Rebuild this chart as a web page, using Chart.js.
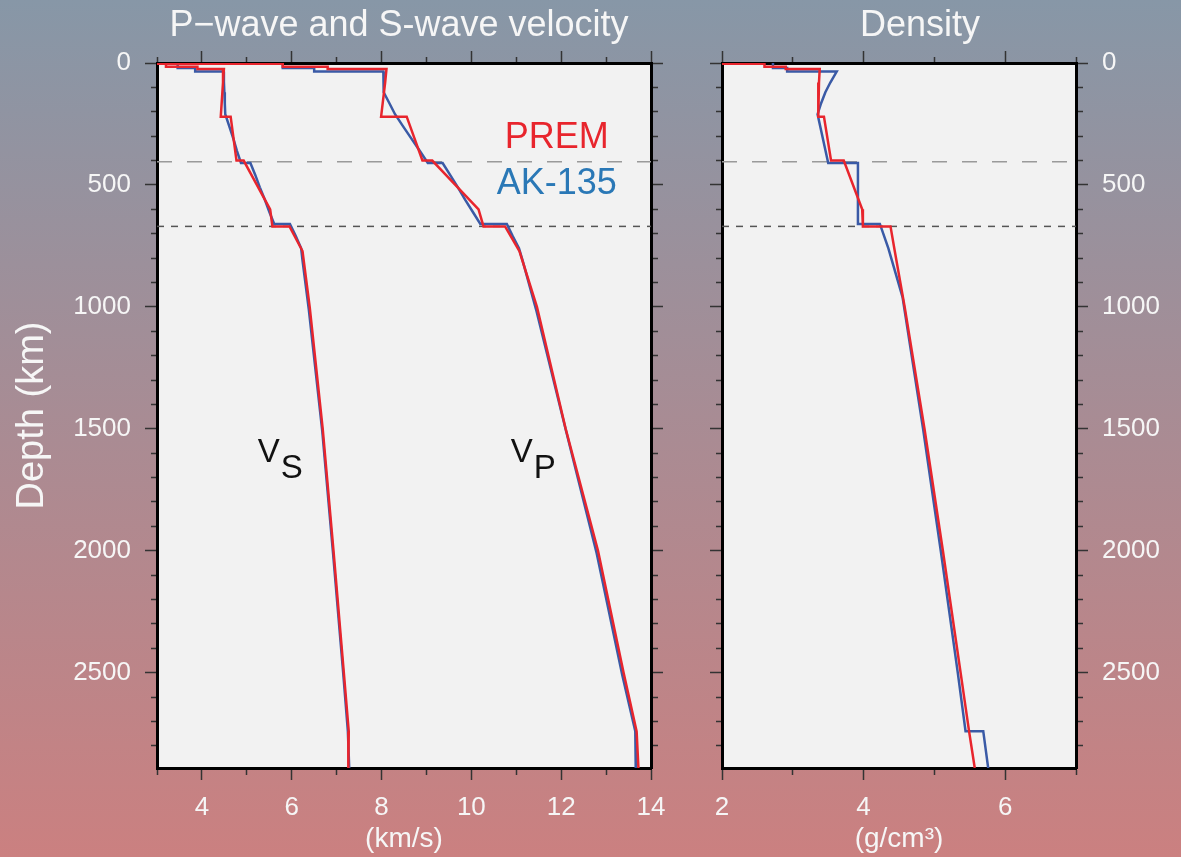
<!DOCTYPE html>
<html>
<head>
<meta charset="utf-8">
<script src="https://cdn.jsdelivr.net/npm/chart.js@4.4.1/dist/chart.umd.min.js"></script>
<style>
  html, body { margin: 0; padding: 0; }
  body {
    width: 1181px; height: 857px; overflow: hidden; position: relative;
    background: linear-gradient(to bottom, #8797a7 0%, #cb8080 100%);
  }
  canvas { position: absolute; top: 0; }
  #velChart { left: 0; }
  #rhoChart { left: 680px; }
</style>
</head>
<body>
<canvas id="velChart" width="680" height="857"></canvas>
<canvas id="rhoChart" width="501" height="857"></canvas>
<script>
// PREM: depth (km), Vp, Vs (km/s), density (g/cm3)
const premDepth = [0, 3, 3, 15, 15, 24.4, 24.4, 80, 220, 220, 400, 400, 600, 670, 670, 771, 1000, 1500, 2000, 2500, 2741, 2891];
const premVp    = [1.45, 1.45, 5.8, 5.8, 6.8, 6.8, 8.11, 8.08, 7.99, 8.56, 8.91, 9.13, 10.16, 10.27, 10.75, 11.07, 11.46, 12.10, 12.82, 13.39, 13.68, 13.72];
const premVs    = [0, 0, 3.2, 3.2, 3.9, 3.9, 4.49, 4.47, 4.42, 4.64, 4.77, 4.93, 5.52, 5.57, 5.95, 6.24, 6.40, 6.69, 6.93, 7.16, 7.27, 7.26];
const premRho   = [1.02, 1.02, 2.6, 2.6, 2.9, 2.9, 3.38, 3.37, 3.36, 3.44, 3.54, 3.72, 3.98, 3.99, 4.38, 4.44, 4.58, 4.86, 5.12, 5.37, 5.49, 5.57];

// AK-135 velocities
const akDepth = [0, 20, 20, 35, 35, 77.5, 120, 165, 210, 260, 310, 360, 410, 410, 460, 510, 560, 610, 660, 660, 710, 760, 809.5, 1010, 1510, 2010, 2510, 2740, 2891.5];
const akVp    = [5.8, 5.8, 6.5, 6.5, 8.04, 8.045, 8.05, 8.175, 8.3, 8.48, 8.665, 8.85, 9.03, 9.36, 9.53, 9.70, 9.86, 10.03, 10.2, 10.79, 10.92, 11.06, 11.14, 11.44, 12.11, 12.79, 13.36, 13.65, 13.66];
const akVs    = [3.46, 3.46, 3.85, 3.85, 4.48, 4.49, 4.5, 4.51, 4.52, 4.61, 4.70, 4.78, 4.87, 5.08, 5.19, 5.29, 5.40, 5.50, 5.61, 5.96, 6.09, 6.21, 6.24, 6.38, 6.68, 6.92, 7.15, 7.25, 7.28];

// AK-135 density
const akRhoDepth = [0, 20, 20, 35, 35, 80, 120, 165, 210, 410, 410, 660, 660, 760, 960, 1500, 2000, 2500, 2740, 2740, 2891.5];
const akRho      = [2.72, 2.72, 2.92, 2.92, 3.62, 3.53, 3.46, 3.40, 3.35, 3.50, 3.92, 3.92, 4.23, 4.35, 4.55, 4.84, 5.09, 5.33, 5.44, 5.69, 5.76];

// discontinuities marked with dashed lines
const discDepths = [405, 670];

// axes
const depthRange = [0, 2891];
const velRange = [3, 14];
const rhoRange = [2, 7];
const depthTicks = [0, 100, 200, 300, 400, 500, 600, 700, 800, 900, 1000, 1100, 1200, 1300, 1400,
                    1500, 1600, 1700, 1800, 1900, 2000, 2100, 2200, 2300, 2400, 2500, 2600, 2700, 2800];
const depthLabels = [0, 500, 1000, 1500, 2000, 2500];
const velTicks = [3, 4, 5, 6, 7, 8, 9, 10, 11, 12, 13, 14];
const velLabels = [4, 6, 8, 10, 12, 14];
const rhoTicks = [2, 3, 4, 5, 6, 7];
const rhoLabels = [2, 4, 6];

// text marks
const noteTexts = ['PREM', 'AK-135'];
const noteX = [11.9, 11.9];
const noteDepth = [308, 497];
const symTexts = ['V', 'V'];
const symSubs = ['S', 'P'];
const symX = [5.49, 11.12];
const symDepth = [1600, 1600];

const RED = '#e8252d';
const BLUE = '#3a5aa6';
const TEXT_BLUE = '#2a78b6';
const WHITE = '#f6f6f6';
const FONT = '"Liberation Sans", Arial, Helvetica, sans-serif';

function pts(depths, values) {
  return depths.map((d, i) => ({ x: values[i], y: d }));
}

function profile(label, depths, values, color) {
  return {
    label: label,
    data: pts(depths, values),
    showLine: true,
    borderColor: color,
    borderWidth: 2.5,
    pointRadius: 0,
    fill: false
  };
}

function refLine(depth, range, dash, color) {
  return {
    label: 'disc',
    data: range.map(v => ({ x: v, y: depth })),
    showLine: true,
    borderColor: color,
    borderWidth: 1.5,
    borderDash: dash,
    pointRadius: 0
  };
}

// outside tick marks, minor ones shortened with a dash pattern
function tickGrid(labels, outerFirst) {
  return {
    drawOnChartArea: false,
    drawTicks: true,
    tickLength: 12,
    tickWidth: 1.5,
    tickColor: '#333',
    tickBorderDash: c => (c.tick && labels.includes(c.tick.value)) ? [] : (outerFirst ? [0, 6, 20, 0] : [5, 20])
  };
}

const frame = { display: true, color: '#000', width: 3 };

function depthAxis(position, showLabels, width, title) {
  return {
    type: 'linear',
    position: position,
    min: depthRange[0],
    max: depthRange[1],
    reverse: true,
    afterFit: s => { s.width = width; },
    afterBuildTicks: s => { s.ticks = depthTicks.map(v => ({ value: v })); },
    border: frame,
    grid: tickGrid(depthLabels, position === 'left'),
    title: title ? {
      display: true, text: title, color: WHITE,
      font: { size: 38, family: FONT }, padding: { top: 10, bottom: 0 }
    } : { display: false },
    ticks: {
      display: showLabels,
      autoSkip: false,
      padding: 14,
      color: WHITE,
      font: { size: 26, family: FONT },
      callback: v => depthLabels.includes(v) ? String(v) : ''
    }
  };
}

function valueAxis(position, range, ticks, labels, title) {
  const bottom = position === 'bottom';
  return {
    type: 'linear',
    position: position,
    min: range[0],
    max: range[1],
    afterFit: s => { s.height = bottom ? 89 : 63; },
    afterBuildTicks: s => { s.ticks = ticks.map(v => ({ value: v })); },
    border: frame,
    grid: tickGrid(labels, !bottom),
    title: title ? {
      display: true, text: title, color: WHITE,
      font: { size: 28, family: FONT }, padding: { top: 0, bottom: 1 }
    } : { display: false },
    ticks: {
      display: bottom,
      autoSkip: false,
      maxRotation: 0,
      padding: 12,
      color: WHITE,
      font: { size: 26, family: FONT },
      callback: v => labels.includes(v) ? String(v) : ''
    }
  };
}

const plotBg = {
  id: 'plotBg',
  beforeDraw(chart) {
    const { ctx, chartArea: a } = chart;
    ctx.save();
    ctx.fillStyle = '#f2f2f2';
    ctx.fillRect(a.left, a.top, a.right - a.left, a.bottom - a.top);
    ctx.restore();
  }
};

const textMarks = {
  id: 'textMarks',
  afterDatasetsDraw(chart, args, opts) {
    const { ctx } = chart;
    const x = chart.scales.x, y = chart.scales.y;
    ctx.save();
    ctx.textBaseline = 'middle';
    (opts.notes || []).forEach(n => {
      const px = x.getPixelForValue(n.x);
      const py = y.getPixelForValue(n.depth);
      ctx.font = n.font;
      ctx.fillStyle = n.color;
      ctx.textAlign = 'center';
      ctx.fillText(n.text, px, py);
      if (n.sub) {
        const w = ctx.measureText(n.text).width;
        ctx.textAlign = 'left';
        ctx.fillText(n.sub, px + w / 2 + 1, py + 16);
      }
    });
    if (opts.title) {
      ctx.font = '36px ' + FONT;
      ctx.fillStyle = WHITE;
      ctx.textAlign = 'center';
      ctx.fillText(opts.title, opts.titleX, 26);
    }
    ctx.restore();
  }
};

const velNotes = noteTexts.map((t, i) => ({
  text: t, x: noteX[i], depth: noteDepth[i],
  color: i === 0 ? RED : TEXT_BLUE, font: '36px ' + FONT
})).concat(symTexts.map((t, i) => ({
  text: t, sub: symSubs[i], x: symX[i], depth: symDepth[i],
  color: '#111', font: '33px "Liberation Sans Narrow", ' + FONT
})));

const baseOptions = {
  responsive: false,
  animation: false,
  layout: { padding: 0 },
  plugins: { legend: { display: false }, tooltip: { enabled: false } }
};

new Chart(document.getElementById('velChart').getContext('2d'), {
  type: 'scatter',
  data: {
    datasets: [
      profile('PREM Vp', premDepth, premVp, RED),
      profile('PREM Vs', premDepth, premVs, RED),
      profile('AK-135 Vp', akDepth, akVp, BLUE),
      profile('AK-135 Vs', akDepth, akVs, BLUE),
      refLine(discDepths[0], velRange, [15, 15], '#9a9a9a'),
      refLine(discDepths[1], velRange, [7, 7], '#555')
    ]
  },
  options: Object.assign({}, baseOptions, {
    plugins: Object.assign({}, baseOptions.plugins, {
      textMarks: { notes: velNotes, title: 'P\u2212wave and S-wave velocity', titleX: 399 }
    }),
    scales: {
      x: valueAxis('bottom', velRange, velTicks, velLabels, '(km/s)'),
      x2: valueAxis('top', velRange, velTicks, velLabels, null),
      y: depthAxis('left', true, 157, 'Depth (km)'),
      y2: depthAxis('right', false, 29, null)
    }
  }),
  plugins: [plotBg, textMarks]
});

new Chart(document.getElementById('rhoChart').getContext('2d'), {
  type: 'scatter',
  data: {
    datasets: [
      profile('PREM density', premDepth, premRho, RED),
      profile('AK-135 density', akRhoDepth, akRho, BLUE),
      refLine(discDepths[0], rhoRange, [15, 15], '#9a9a9a'),
      refLine(discDepths[1], rhoRange, [7, 7], '#555')
    ]
  },
  options: Object.assign({}, baseOptions, {
    plugins: Object.assign({}, baseOptions.plugins, {
      textMarks: { notes: [], title: 'Density', titleX: 240 }
    }),
    scales: {
      x: valueAxis('bottom', rhoRange, rhoTicks, rhoLabels, '(g/cm\u00b3)'),
      x2: valueAxis('top', rhoRange, rhoTicks, rhoLabels, null),
      y: depthAxis('left', false, 42, null),
      y2: depthAxis('right', true, 105, null)
    }
  }),
  plugins: [plotBg, textMarks]
});
</script>
</body>
</html>
